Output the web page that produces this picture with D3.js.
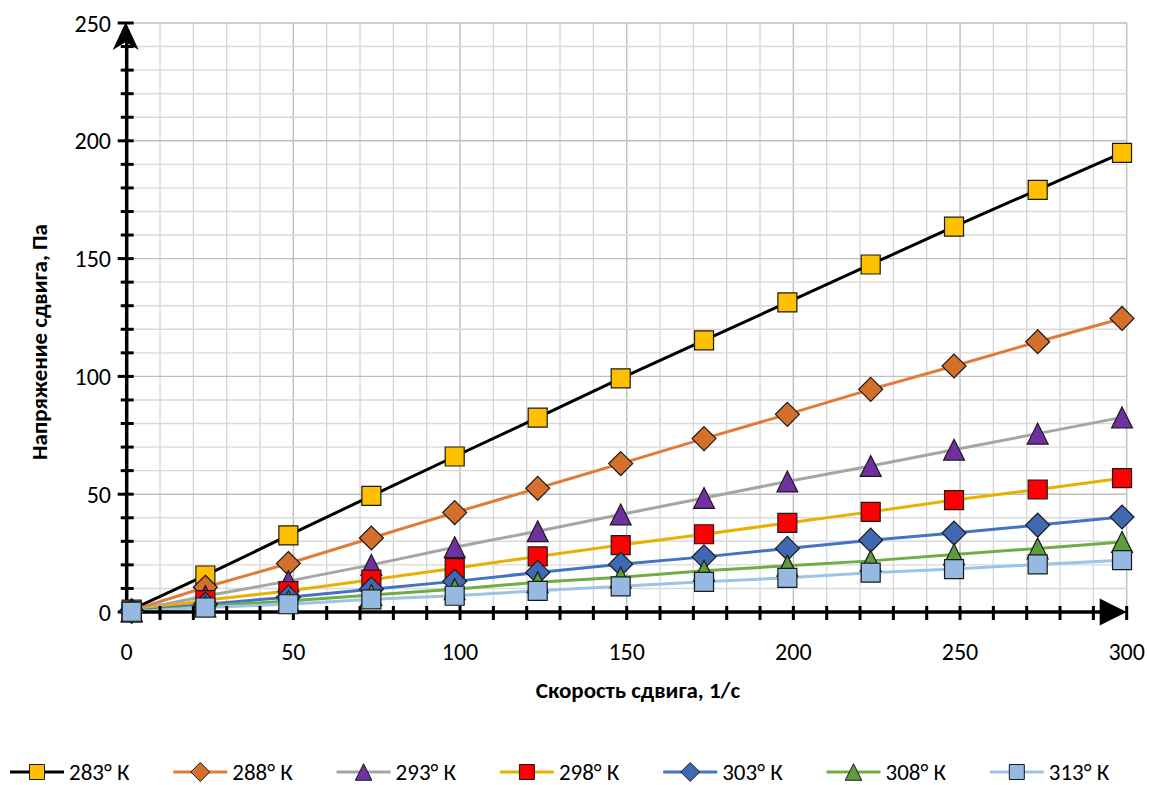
<!DOCTYPE html>
<html>
<head>
<meta charset="utf-8">
<script src="https://cdn.jsdelivr.net/npm/d3@7"></script>
<style>
  body { margin: 0; background: #fff; }
  svg { display: block; font-family: Calibri, Carlito, Lato, sans-serif; }
</style>
</head>
<body>
<svg id="chart" width="1149" height="785"></svg>
<script>
// shear rate, 1/s
const shearRate = [1.5, 23.6, 48.5, 73.4, 98.4, 123.3, 148.2, 173.2, 198.2, 223.2, 248.2, 273.3, 298.6];

// shear stress, Pa, one array per temperature
const t283 = [1.0, 15.5, 32.5, 49.3, 66.0, 82.5, 99.2, 115.3, 131.4, 147.5, 163.6, 179.2, 194.9];
const t288 = [0.6, 10.5, 20.6, 31.4, 42.2, 52.5, 63.0, 73.6, 83.9, 94.5, 104.4, 114.7, 124.6];
const t293 = [0.4, 6.8, 13.1, 20.0, 27.5, 34.3, 41.4, 48.4, 55.4, 62.0, 68.9, 75.7, 82.6];
const t298 = [0.3, 5.0, 8.9, 13.7, 18.6, 23.6, 28.4, 33.0, 37.8, 42.5, 47.5, 52.0, 56.8];
const t303 = [0.2, 3.3, 6.3, 9.7, 13.0, 16.8, 20.3, 23.4, 27.0, 30.5, 33.5, 36.9, 40.3];
const t308 = [0.15, 2.4, 4.7, 7.2, 9.7, 12.6, 14.7, 17.5, 19.6, 21.7, 24.4, 27.0, 29.7];
const t313 = [0.1, 1.9, 3.3, 5.4, 6.9, 9.0, 10.9, 12.8, 14.5, 16.7, 18.2, 20.2, 22.0];

const seriesNames = ["283° К", "288° К", "293° К", "298° К", "303° К", "308° К", "313° К"];
const xTicks = [0, 50, 100, 150, 200, 250, 300];
const yTicks = [0, 50, 100, 150, 200, 250];

// styles per series
const styles = [
  { line: "#000000", fill: "#ffc000", shape: "square" },
  { line: "#e07b39", fill: "#d4702c", shape: "diamond" },
  { line: "#a5a5a5", fill: "#7030a0", shape: "triangle" },
  { line: "#e8b000", fill: "#ff0000", shape: "square" },
  { line: "#4472c4", fill: "#3f6ab3", shape: "diamond" },
  { line: "#70ad47", fill: "#5e9c3c", shape: "triangle" },
  { line: "#9dc3e6", fill: "#95b9e1", shape: "square" }
];

const seriesValues = [t283, t288, t293, t298, t303, t308, t313];
const series = seriesNames.map((name, i) => ({
  name: name,
  style: styles[i],
  points: shearRate.map((x, j) => ({ x: x, y: seriesValues[i][j] }))
}));

const svg = d3.select("#chart");

const x = d3.scaleLinear().domain([0, 300]).range([126.7, 1126.7]);
const y = d3.scaleLinear().domain([0, 250]).range([612, 23]);

// marker path, centred on 0,0
function marker(shape, s) {
  if (shape == "square") {
    const h = s / 2;
    return `M${-h},${-h}H${h}V${h}H${-h}Z`;
  }
  if (shape == "diamond") {
    const h = s * 0.63;
    return `M0,${-h}L${h},0L0,${h}L${-h},0Z`;
  }
  const h = s * 0.55;
  return `M0,${-h}L${h},${h}L${-h},${h}Z`;
}

// grid
const grid = svg.append("g");
grid.selectAll("line.gx")
  .data(d3.range(10, 301, 10))
  .enter()
  .append("line")
  .attr("x1", d => x(d)).attr("x2", d => x(d))
  .attr("y1", y(0)).attr("y2", y(250))
  .style("stroke", d => d % 50 == 0 ? "#bfbfbf" : "#d9d9d9")
  .style("stroke-width", 1.4);
grid.selectAll("line.gy")
  .data(d3.range(10, 251, 10))
  .enter()
  .append("line")
  .attr("y1", d => y(d)).attr("y2", d => y(d))
  .attr("x1", x(0)).attr("x2", x(300))
  .style("stroke", d => d % 50 == 0 ? "#bfbfbf" : "#d9d9d9")
  .style("stroke-width", 1.4);

// lines
const line = d3.line().x(d => x(d.x)).y(d => y(d.y));
svg.append("g")
  .selectAll("path")
  .data(series)
  .enter()
  .append("path")
  .attr("d", d => line(d.points))
  .style("fill", "none")
  .style("stroke", d => d.style.line)
  .style("stroke-width", 3);

// axes
const axes = svg.append("g").style("stroke", "#000");
// x ticks
axes.selectAll("line.xt")
  .data(d3.range(10, 301, 10))
  .enter()
  .append("line")
  .attr("x1", d => x(d)).attr("x2", d => x(d))
  .attr("y1", y(0) - 6).attr("y2", y(0) + 8)
  .style("stroke-width", 3);
// y ticks
axes.selectAll("line.yt")
  .data(d3.range(0, 251, 10))
  .enter()
  .append("line")
  .attr("y1", d => y(d)).attr("y2", d => y(d))
  .attr("x1", d => x(0) - (d % 50 == 0 ? 9 : 6)).attr("x2", x(0) + 7)
  .style("stroke-width", 3);
axes.append("line")
  .attr("x1", x(0)).attr("x2", x(300) - 20)
  .attr("y1", y(0)).attr("y2", y(0))
  .style("stroke-width", 3.5);
axes.append("line")
  .attr("x1", x(0)).attr("x2", x(0))
  .attr("y1", y(0) + 2).attr("y2", y(250) + 18)
  .style("stroke-width", 3.5);
// arrow heads
axes.append("path")
  .attr("d", `M${x(300)},${y(0)}L${x(300) - 27},${y(0) - 13.5}L${x(300) - 27},${y(0) + 13.5}Z`)
  .style("fill", "#000").style("stroke", "none");
axes.append("path")
  .attr("d", `M${x(0) - 1},${y(250) - 1}L${x(0) + 12},${y(250) + 27}L${x(0) - 1},${y(250) + 19}L${x(0) - 14},${y(250) + 27}Z`)
  .style("fill", "#000").style("stroke", "none");

// markers
const mk = svg.append("g");
series.forEach(s => {
  mk.append("g")
    .selectAll("path")
    .data(s.points)
    .enter()
    .append("path")
    .attr("transform", d => `translate(${x(d.x)},${y(d.y)})`)
    .attr("d", marker(s.style.shape, 19))
    .style("fill", s.style.fill)
    .style("stroke", "#1a1a1a")
    .style("stroke-width", 1.2);
});

// tick labels
svg.append("g")
  .selectAll("text")
  .data(xTicks)
  .enter()
  .append("text")
  .attr("x", d => x(d))
  .attr("y", 660)
  .attr("text-anchor", "middle")
  .style("font-size", "24px")
  .text(d => d);
svg.append("g")
  .selectAll("text")
  .data(yTicks)
  .enter()
  .append("text")
  .attr("x", 111)
  .attr("y", d => y(d) + 8.5)
  .attr("text-anchor", "end")
  .style("font-size", "24px")
  .text(d => d);

// axis titles
svg.append("text")
  .attr("x", 638)
  .attr("y", 698)
  .attr("text-anchor", "middle")
  .style("font-size", "23px")
  .style("font-weight", "bold")
  .text("Скорость сдвига, 1/с");
svg.append("text")
  .attr("transform", "translate(47,342) rotate(-90)")
  .attr("text-anchor", "middle")
  .style("font-size", "23px")
  .style("font-weight", "bold")
  .text("Напряжение сдвига, Па");

// legend
const legend = svg.append("g")
  .selectAll("g")
  .data(series)
  .enter()
  .append("g")
  .attr("transform", (d, i) => `translate(${10 + i * 163.3},772)`);
legend.append("line")
  .attr("x1", 0).attr("x2", 54)
  .style("stroke", d => d.style.line)
  .style("stroke-width", 3);
legend.append("path")
  .attr("transform", "translate(27,0)")
  .attr("d", d => marker(d.style.shape, 15))
  .style("fill", d => d.style.fill)
  .style("stroke", "#1a1a1a")
  .style("stroke-width", 1);
legend.append("text")
  .attr("x", 59)
  .attr("y", 8)
  .style("font-size", "23px")
  .text(d => d.name);
</script>
</body>
</html>
